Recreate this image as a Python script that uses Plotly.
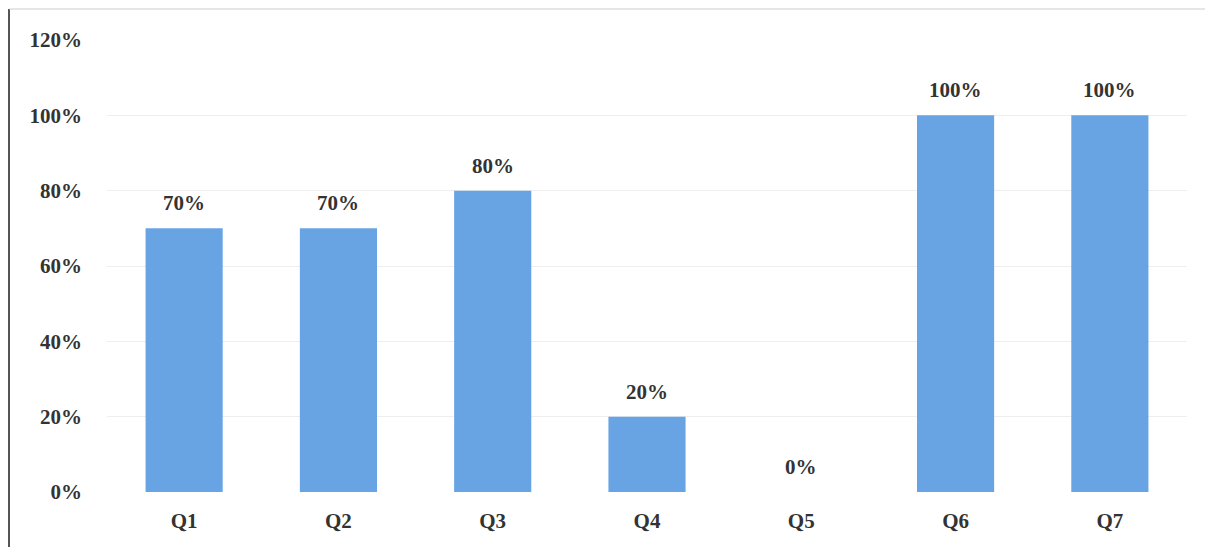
import plotly.graph_objects as go

categories = ["Q1", "Q2", "Q3", "Q4", "Q5", "Q6", "Q7"]
values = [0.70, 0.70, 0.80, 0.20, 0.00, 1.00, 1.00]
labels = ["70%", "70%", "80%", "20%", "0%", "100%", "100%"]
y_ticks = [0, 0.2, 0.4, 0.6, 0.8, 1.0, 1.2]
y_tick_text = ["0%", "20%", "40%", "60%", "80%", "100%", "120%"]

font_family = "Liberation Serif"
bar_color = "#68a4e3"
text_color = "#333333"

ML, MR, MT, MB = 99, 34, 32, 63
PW = 1213 - ML - MR
PH = 547 - MT - MB

fig = go.Figure()
fig.add_trace(go.Bar(
    x=categories, y=values,
    marker=dict(color=bar_color, line=dict(width=0)),
    hoverinfo="skip",
))

for c, v, t in zip(categories, values, labels):
    fig.add_annotation(
        x=c, y=v, text="<b>%s</b>" % t, showarrow=False,
        yanchor="bottom", yshift=11,
        font=dict(family=font_family, size=21, color=text_color),
    )

fig.update_layout(
    width=1213, height=547,
    margin=dict(l=ML, r=MR, t=MT, b=MB),
    paper_bgcolor="white", plot_bgcolor="white",
    bargap=0.5, showlegend=False,
    font=dict(family=font_family, size=21, color=text_color),
    xaxis=dict(
        tickmode="array", tickvals=categories,
        ticktext=["<b>%s</b>" % c for c in categories],
        tickfont=dict(family=font_family, size=21, color=text_color),
        showgrid=False, showline=False, ticks="", ticklabelstandoff=14,
    ),
    yaxis=dict(
        range=[0, 1.2], tickmode="array", tickvals=y_ticks,
        ticktext=["<b>%s</b>" % t for t in y_tick_text],
        tickfont=dict(family=font_family, size=21, color=text_color),
        showgrid=True, gridcolor="#eeeeee", gridwidth=1,
        zeroline=False, showline=False, ticks="", ticklabelstandoff=24,
    ),
    shapes=[
        dict(type="line", xref="paper", yref="paper",
             x0=-(ML - 1) / PW, x1=-(ML - 1) / PW, y0=-MB / PH, y1=1 + (MT - 1) / PH,
             line=dict(color="#555555", width=2)),
        dict(type="line", xref="paper", yref="paper",
             x0=-(ML - 1) / PW, x1=1 + (MR - 8) / PW, y0=1 + (MT - 1) / PH, y1=1 + (MT - 1) / PH,
             line=dict(color="#cccccc", width=1)),
    ],
)

fig.write_html("out.html")
